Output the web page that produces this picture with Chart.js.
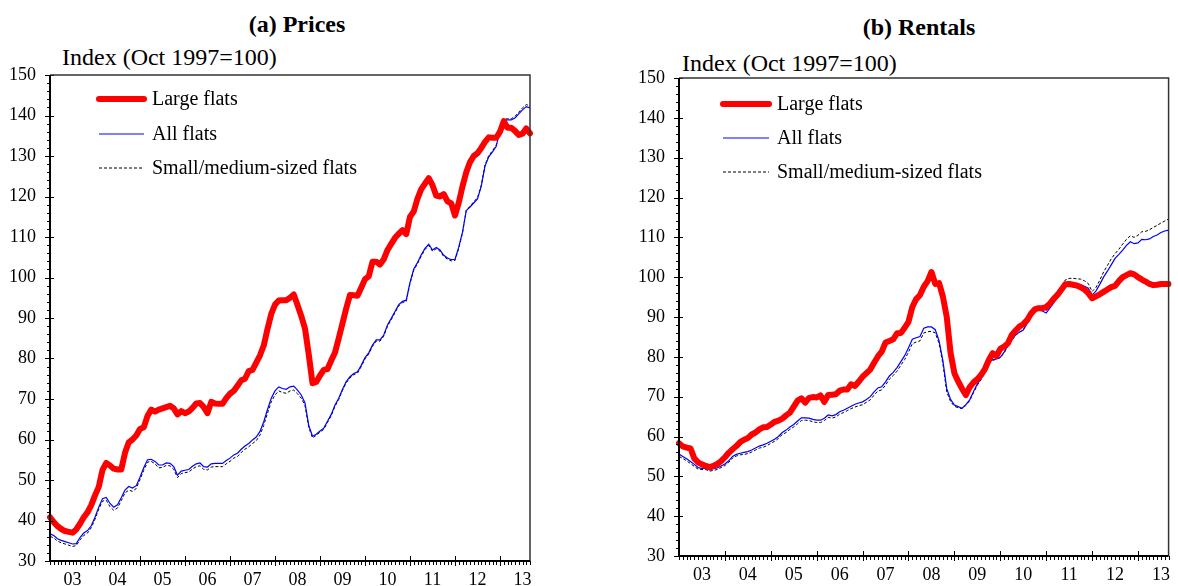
<!DOCTYPE html>
<html>
<head>
<meta charset="utf-8">
<script src="https://cdn.jsdelivr.net/npm/chart.js@4.4.0/dist/chart.umd.min.js"></script>
<style>
  html, body { margin: 0; padding: 0; background: #fff; }
  body { width: 1178px; height: 586px; position: relative; overflow: hidden; font-family: "Liberation Serif", "Times New Roman", serif; color: #000; }
  .panel { position: absolute; top: 0; }
  #wrapA { left: 0; }
  #wrapB { left: 600px; }
  .title { position: absolute; font-weight: bold; font-size: 24px; line-height: 24px; transform: translateX(-50%); white-space: nowrap; }
  .unit { position: absolute; font-size: 24px; line-height: 24px; white-space: nowrap; }
</style>
</head>
<body>
<div class="title" style="left:297px; top:12px;">(a) Prices</div>
<div class="title" style="left:919px; top:15px;">(b) Rentals</div>
<div class="unit" style="left:62px; top:45px;">Index (Oct 1997=100)</div>
<div class="unit" style="left:682px; top:51px;">Index (Oct 1997=100)</div>
<div class="panel" id="wrapA"><canvas id="prices" width="560" height="586"></canvas></div>
<div class="panel" id="wrapB"><canvas id="rentals" width="578" height="586"></canvas></div>

<script>
// monthly, Jan 2003 - Sep 2013
const monthLabels = [];
for (let yr = 2003; yr <= 2013; yr++) {
  for (let mo = 1; mo <= 12; mo++) {
    if (monthLabels.length < 129) monthLabels.push(yr + '-' + String(mo).padStart(2, '0'));
  }
}
const yearLabels = ['03', '04', '05', '06', '07', '08', '09', '10', '11', '12', '13'];
const yTicks = [30, 40, 50, 60, 70, 80, 90, 100, 110, 120, 130, 140, 150];

// (a) Prices
const pricesLarge = [
  40.8, 39.6, 38.6, 37.9, 37.4, 37.2, 37.0, 37.8, 39.2, 40.8, 42.0, 43.8,
  46.2, 48.3, 52.5, 54.2, 53.6, 52.8, 52.6, 52.6, 56.7, 59.3, 60.0, 61.0,
  62.6, 63.0, 65.8, 67.4, 66.9, 67.4, 67.7, 68.0, 68.3, 67.7, 66.2, 67.0,
  66.5, 66.9, 67.8, 68.9, 69.0, 68.0, 66.5, 69.3, 68.9, 68.8, 68.8, 70.2,
  71.3, 72.0, 73.3, 74.6, 75.0, 76.9, 77.2, 79.0, 80.8, 83.2, 87.3, 91.0,
  93.3, 94.3, 94.4, 94.4, 95.0, 95.8, 93.2, 90.5, 87.4, 81.0, 73.9, 74.2,
  75.8, 77.2, 77.4, 79.5, 81.5, 85.0, 88.7, 92.4, 95.7, 95.6, 95.5, 97.5,
  99.6, 100.3, 103.9, 103.9, 103.2, 104.5, 106.8, 108.3, 109.8, 110.8, 111.7, 110.7,
  115.0, 116.3, 119.5, 121.8, 123.2, 124.5, 122.8, 120.2, 120.0, 120.6, 118.8, 118.3,
  115.3, 118.5, 122.5, 126.0, 128.5, 130.0, 130.7, 132.0, 133.5, 134.6, 134.5, 134.5,
  136.0, 138.6, 137.0, 137.0, 136.2, 135.2, 135.5, 136.8, 135.6
];
const pricesAll = [
  36.7, 36.3, 35.5, 35.1, 34.8, 34.5, 34.2, 34.3, 35.8, 36.9, 37.5, 38.7,
  40.8, 43.3, 45.4, 45.7, 44.2, 43.3, 43.9, 45.6, 47.5, 48.4, 48.0, 48.6,
  50.7, 53.0, 55.0, 55.1, 54.6, 53.7, 53.7, 54.2, 54.1, 53.3, 51.2, 52.2,
  52.4, 52.6, 53.4, 54.0, 54.2, 53.3, 53.2, 54.0, 54.1, 54.1, 54.1, 54.8,
  55.4, 56.2, 56.6, 57.6, 58.4, 59.0, 59.9, 60.6, 62.0, 64.4, 67.4, 70.2,
  72.0, 73.0, 72.6, 72.4, 73.0, 73.2, 72.2, 71.0, 69.0, 63.5, 60.8, 61.3,
  62.1, 62.8, 64.5, 66.2, 68.5, 70.2, 72.4, 74.3, 75.5, 76.3, 76.7, 78.3,
  80.2, 81.4, 83.3, 84.6, 84.6, 85.8, 88.3, 89.9, 91.6, 93.3, 94.1, 94.4,
  98.8, 102.1, 103.7, 105.6, 107.2, 108.2, 106.8, 107.4, 106.8, 105.5, 104.8, 104.4,
  104.5, 107.5, 111.2, 116.5, 117.4, 118.4, 119.4, 122.5, 127.5, 129.8, 131.0, 132.4,
  136.4, 138.8, 138.9, 138.9, 139.4, 140.4, 141.4, 142.2, 141.9
];
const pricesSmall = [
  36.1, 35.7, 34.9, 34.5, 34.2, 33.9, 33.6, 33.8, 35.2, 36.3, 36.9, 38.2,
  40.3, 42.8, 44.8, 45.0, 43.4, 42.5, 43.1, 44.9, 46.8, 47.5, 47.2, 47.9,
  50.1, 52.4, 54.4, 54.6, 54.0, 53.0, 53.1, 53.6, 53.5, 52.6, 50.6, 51.6,
  51.8, 52.0, 52.7, 53.3, 53.5, 52.6, 52.5, 53.2, 53.3, 53.3, 53.3, 54.0,
  54.6, 55.4, 55.8, 56.8, 57.6, 58.2, 59.0, 59.7, 61.1, 63.5, 66.5, 69.3,
  71.0, 72.0, 71.6, 71.4, 72.0, 72.2, 71.3, 70.2, 68.4, 63.0, 60.4, 61.0,
  61.8, 62.5, 64.2, 65.9, 68.2, 69.9, 72.1, 74.0, 75.2, 76.0, 76.4, 78.0,
  79.9, 81.1, 83.0, 84.3, 84.3, 85.5, 88.0, 89.6, 91.3, 93.0, 93.8, 94.1,
  98.5, 101.8, 103.4, 105.3, 106.9, 107.9, 106.5, 107.1, 106.5, 105.2, 104.5, 104.1,
  104.2, 107.2, 111.0, 116.6, 117.6, 118.7, 119.7, 122.8, 127.8, 130.1, 131.3, 132.7,
  136.7, 139.1, 139.2, 139.2, 139.8, 140.8, 141.9, 142.7, 142.4
];

// (b) Rentals
const rentsLarge = [
  58.3, 57.5, 57.2, 57.0, 54.5, 53.5, 53.0, 52.6, 52.3, 52.6, 53.1, 53.8,
  54.8, 55.9, 56.8, 57.6, 58.6, 59.2, 59.6, 60.5, 61.0, 61.8, 62.3, 62.4,
  63.0, 63.7, 64.0, 64.5, 65.3, 66.0, 67.5, 69.0, 69.6, 68.5, 69.7, 69.9,
  69.8, 70.3, 68.7, 70.4, 70.5, 70.6, 71.5, 71.8, 71.8, 73.1, 72.7, 73.8,
  75.0, 75.9, 76.8, 78.5, 80.1, 81.3, 83.6, 84.0, 84.4, 85.9, 86.0, 87.3,
  88.8, 92.5, 94.5, 95.5, 97.6, 99.0, 101.3, 98.3, 98.5, 95.1, 90.0, 81.0,
  75.9, 73.8, 72.0, 70.4, 72.4, 73.6, 74.4, 75.5, 77.0, 79.2, 80.9, 80.2,
  82.0, 82.6, 83.4, 85.5, 86.6, 87.6, 88.2, 89.2, 90.8, 91.9, 92.2, 92.2,
  92.5, 93.4, 94.6, 95.6, 96.9, 98.2, 98.3, 98.1, 97.9, 97.5, 96.9, 96.0,
  94.7, 95.2, 95.7, 96.3, 96.9, 97.5, 97.8, 99.0, 100.0, 100.5, 101.0, 100.7,
  100.0, 99.4, 98.9, 98.3, 98.0, 98.1, 98.3, 98.3, 98.3
];
const rentsAll = [
  55.6, 55.0, 54.4, 53.7, 53.0, 52.2, 52.0, 52.0, 51.6, 51.9, 52.1, 52.6,
  53.1, 53.9, 55.0, 55.5, 55.8, 56.0, 56.2, 56.6, 57.1, 57.6, 57.9, 58.3,
  58.8, 59.3, 60.0, 61.0, 61.6, 62.4, 63.0, 63.9, 64.7, 64.7, 64.6, 64.3,
  64.1, 64.1, 64.6, 65.4, 65.2, 65.5, 66.2, 66.6, 67.1, 67.6, 68.1, 68.4,
  68.7, 69.3, 70.0, 71.2, 72.2, 72.5, 73.7, 75.2, 76.1, 77.3, 78.8, 80.3,
  82.3, 84.4, 84.8, 85.1, 87.2, 87.5, 87.5, 86.8, 84.0, 79.0, 72.0, 69.3,
  67.9, 67.5, 67.1, 68.0, 69.2, 71.3, 73.2, 74.6, 76.6, 78.5, 79.3, 79.5,
  79.9, 81.2, 82.9, 84.3, 85.5, 86.2, 86.7, 88.3, 90.0, 91.5, 91.8, 91.5,
  91.0, 92.3, 93.6, 95.0, 96.6, 98.4, 98.6, 98.5, 98.3, 98.1, 97.7, 97.2,
  95.5, 96.5, 98.2, 100.0, 101.5, 103.1, 104.7, 105.7, 106.8, 108.0, 108.9, 108.4,
  108.6, 109.5, 109.4, 109.6, 110.2, 110.6, 111.2, 111.6, 111.8
];
const rentsSmall = [
  55.0, 54.5, 53.9, 53.2, 52.5, 51.8, 51.7, 51.7, 51.3, 51.5, 51.7, 52.2,
  52.7, 53.5, 54.6, 55.1, 55.4, 55.5, 55.7, 56.1, 56.6, 57.1, 57.3, 57.7,
  58.3, 58.8, 59.5, 60.5, 61.0, 61.8, 62.4, 63.2, 64.0, 64.1, 64.0, 63.7,
  63.5, 63.5, 64.0, 64.8, 64.6, 64.9, 65.6, 66.0, 66.5, 67.0, 67.4, 67.7,
  68.0, 68.6, 69.2, 70.4, 71.4, 71.7, 72.9, 74.4, 75.3, 76.4, 77.9, 79.3,
  81.2, 83.3, 83.7, 84.0, 86.0, 86.3, 86.4, 86.0, 83.4, 78.2, 71.2, 68.8,
  67.6, 67.2, 67.0, 67.8, 69.0, 71.0, 72.9, 74.3, 76.3, 78.2, 79.1, 79.4,
  79.8, 81.0, 82.7, 84.1, 85.4, 86.2, 86.8, 88.5, 90.2, 91.8, 92.3, 92.2,
  91.6, 92.9, 94.3, 95.8, 97.6, 99.3, 99.7, 99.7, 99.6, 99.5, 99.1, 98.4,
  96.4, 97.4, 99.2, 101.3, 102.9, 104.6, 105.9, 107.0, 108.3, 109.5, 110.4, 110.0,
  110.5, 111.4, 111.5, 111.9, 112.5, 113.0, 113.6, 114.1, 114.6
];

const serif = '"Liberation Serif", "Times New Roman", serif';

// month/year tick marks on x, 2-point ticks on y, plus the box
const axisMarks = {
  id: 'axisMarks',
  afterDatasetsDraw(chart) {
    const { ctx, chartArea: a, scales: { x, y } } = chart;
    ctx.save();
    ctx.strokeStyle = '#000';
    ctx.lineWidth = 1;
    ctx.beginPath();
    for (let i = 0; i < monthLabels.length; i++) {
      const px = Math.round(x.getPixelForValue(i)) + 0.5;
      if (i % 12 === 0 && i > 0) {
        ctx.moveTo(px, a.bottom - 5);
        ctx.lineTo(px, a.bottom + 5);
      } else {
        ctx.moveTo(px, a.bottom);
        ctx.lineTo(px, a.bottom + 4);
      }
    }
    for (let v = 30; v <= 150; v += 2) {
      const py = Math.round(y.getPixelForValue(v)) + 0.5;
      if (v % 10 === 0) {
        ctx.moveTo(a.left - 5, py);
        ctx.lineTo(a.left + 4, py);
      } else {
        ctx.moveTo(a.left - 3, py);
        ctx.lineTo(a.left, py);
      }
    }
    ctx.stroke();

    // top + right
    ctx.strokeStyle = '#333';
    ctx.lineWidth = 1.5;
    ctx.beginPath();
    ctx.moveTo(a.left, a.top);
    ctx.lineTo(a.right, a.top);
    ctx.lineTo(a.right, a.bottom);
    ctx.stroke();

    // left + bottom axis
    ctx.strokeStyle = '#000';
    ctx.lineWidth = 2;
    ctx.beginPath();
    ctx.moveTo(a.left, a.top);
    ctx.lineTo(a.left, a.bottom);
    ctx.lineTo(a.right, a.bottom);
    ctx.stroke();
    ctx.restore();
  }
};

const boxLegend = {
  id: 'boxLegend',
  afterDraw(chart, args, o) {
    const { ctx, chartArea: a } = chart;
    chart.data.datasets.forEach((ds, i) => {
      const yy = a.top + o.rows[i];
      ctx.save();
      ctx.strokeStyle = ds.borderColor;
      ctx.lineWidth = ds.borderWidth;
      ctx.setLineDash(ds.borderDash || []);
      ctx.lineCap = i === 0 ? 'round' : 'butt';
      ctx.beginPath();
      ctx.moveTo(a.left + o.x0, yy);
      ctx.lineTo(a.left + o.x1, yy);
      ctx.stroke();
      ctx.restore();
      ctx.save();
      ctx.fillStyle = '#000';
      ctx.font = '20px ' + serif;
      ctx.textBaseline = 'middle';
      ctx.fillText(ds.label, a.left + o.tx, yy + 1);
      ctx.restore();
    });
  }
};

function buildChart(id, large, all, small, geo) {
  return new Chart(document.getElementById(id), {
    type: 'line',
    data: {
      labels: monthLabels,
      datasets: [
        { label: 'Large flats', data: large, borderColor: '#ff0000', borderWidth: 6,
          borderCapStyle: 'round', borderJoinStyle: 'round', pointRadius: 0, tension: 0 },
        { label: 'All flats', data: all, borderColor: '#0000ff', borderWidth: 1.2,
          pointRadius: 0, tension: 0 },
        { label: 'Small/medium-sized flats', data: small, borderColor: '#000000', borderWidth: 1,
          borderDash: [3, 2], pointRadius: 0, tension: 0 }
      ]
    },
    options: {
      responsive: false,
      animation: false,
      events: [],
      layout: { padding: { top: geo.top, right: geo.right, left: 0, bottom: 0 } },
      plugins: {
        legend: { display: false },
        tooltip: { enabled: false },
        boxLegend: geo.legend
      },
      scales: {
        x: {
          type: 'category',
          offset: false,
          grid: { display: false, drawTicks: false },
          border: { display: false },
          ticks: {
            autoSkip: false,
            maxRotation: 0,
            padding: 8,
            color: '#000',
            font: { family: serif, size: 18 },
            callback: (v, i) => (i % 12 === 6 ? yearLabels[(i - 6) / 12] : null)
          },
          afterFit: s => { s.height = geo.xh; }
        },
        y: {
          min: 30,
          max: 150,
          grid: { display: false, drawTicks: false },
          border: { display: false },
          afterBuildTicks: s => { s.ticks = yTicks.map(v => ({ value: v })); },
          ticks: { padding: 14, color: '#000', font: { family: serif, size: 18 } },
          afterFit: s => { s.width = geo.yw; }
        }
      }
    },
    plugins: [axisMarks, boxLegend]
  });
}

buildChart('prices', pricesLarge, pricesAll, pricesSmall, {
  top: 75, right: 30, xh: 25, yw: 50,
  legend: { x0: 49, x1: 94, tx: 102, rows: [24, 59, 93] }
});
buildChart('rentals', rentsLarge, rentsAll, rentsSmall, {
  top: 78, right: 4, xh: 30, yw: 79,
  legend: { x0: 44, x1: 90, tx: 98, rows: [26, 60, 94] }
});
</script>
</body>
</html>
